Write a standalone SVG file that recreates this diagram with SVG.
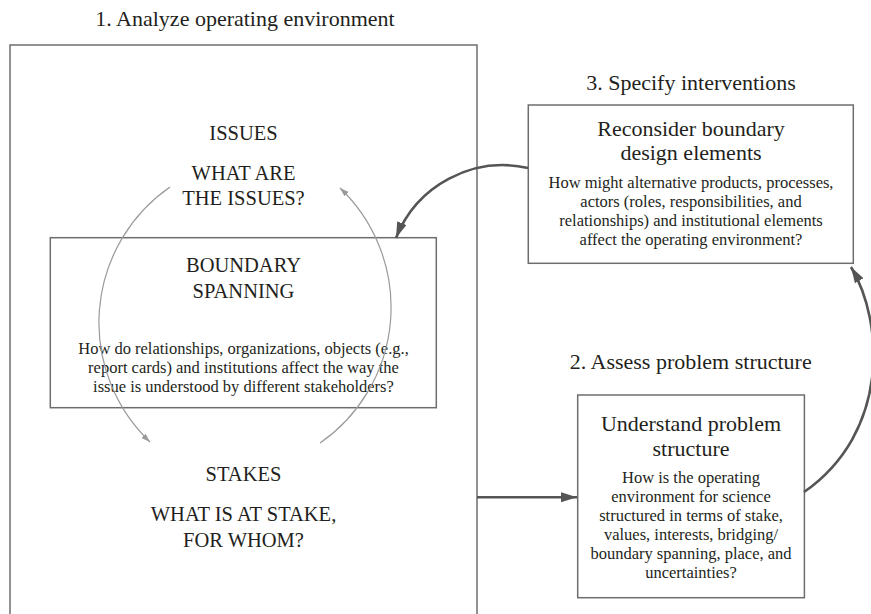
<svg xmlns="http://www.w3.org/2000/svg" width="871" height="614" viewBox="0 0 871 614">
<defs>
<style>
.t{font-family:"Liberation Serif","Times New Roman",serif;fill:#231f20;text-anchor:middle}
.step{font-size:22px}
.head{font-size:22px}
.cap{font-size:20.5px}
.body{font-size:16.5px}
.box{fill:none;stroke:#6d6d6d;stroke-width:1.5}
.thin{fill:none;stroke:#9a9a9a;stroke-width:1.2}
.thick{fill:none;stroke:#555;stroke-width:2.6}
</style>
<marker id="ah" markerUnits="userSpaceOnUse" markerWidth="18" markerHeight="12" refX="16" refY="5" orient="auto">
<path d="M0,0 L16,5 L0,10 z" fill="#555"/>
</marker>
<marker id="as" markerUnits="userSpaceOnUse" markerWidth="12" markerHeight="8" refX="9" refY="3" orient="auto">
<path d="M0,0 L9,3 L0,6 z" fill="#9a9a9a"/>
</marker>
</defs>
<rect width="871" height="614" fill="#fff"/>

<g id="analyze">
<rect class="box" x="10" y="45" width="467" height="580"/>
<text class="t step" x="245" y="26">1. Analyze operating environment</text>
</g>

<g id="issues">
<text class="t cap" x="243.5" y="140">ISSUES</text>
<text class="t cap" x="243.5" y="180">WHAT ARE</text>
<text class="t cap" x="243.5" y="205">THE ISSUES?</text>
</g>

<g id="boundary">
<rect class="box" x="50.3" y="237.7" width="386" height="170"/>
<text class="t cap" x="243.5" y="271.5">BOUNDARY</text>
<text class="t cap" x="243.5" y="298">SPANNING</text>
<text class="t body" x="243.5" y="354">How do relationships, organizations, objects (e.g.,</text>
<text class="t body" x="243.5" y="372.8">report cards) and institutions affect the way the</text>
<text class="t body" x="243.5" y="391.6">issue is understood by different stakeholders?</text>
</g>

<g id="stakes">
<text class="t cap" x="243.5" y="480.7">STAKES</text>
<text class="t cap" x="243.5" y="521">WHAT IS AT STAKE,</text>
<text class="t cap" x="243.5" y="546.7">FOR WHOM?</text>
</g>

<g id="specify">
<text class="t step" x="691" y="90">3. Specify interventions</text>
<rect class="box" x="528.3" y="105" width="325" height="158.3"/>
<text class="t head" x="691" y="136">Reconsider boundary</text>
<text class="t head" x="691" y="160">design elements</text>
<text class="t body" x="691" y="187.7">How might alternative products, processes,</text>
<text class="t body" x="691" y="206.7">actors (roles, responsibilities, and</text>
<text class="t body" x="691" y="225.7">relationships) and institutional elements</text>
<text class="t body" x="691" y="244.5">affect the operating environment?</text>
</g>

<g id="assess">
<text class="t step" x="690.7" y="369.3">2. Assess problem structure</text>
<rect class="box" x="577.7" y="395" width="226.7" height="202.7"/>
<text class="t head" x="691" y="430.7">Understand problem</text>
<text class="t head" x="691" y="456">structure</text>
<text class="t body" x="691" y="482.7">How is the operating</text>
<text class="t body" x="691" y="502">environment for science</text>
<text class="t body" x="691" y="521">structured in terms of stake,</text>
<text class="t body" x="691" y="540">values, interests, bridging/</text>
<text class="t body" x="691" y="559.3">boundary spanning, place, and</text>
<text class="t body" x="691" y="578.3">uncertainties?</text>
</g>

<g id="connectors">
<path class="thin" d="M170,187 A165,165 0 0 0 150,442" marker-end="url(#as)"/>
<path class="thin" d="M320,443 A165,165 0 0 0 340,188" marker-end="url(#as)"/>
<path class="thick" d="M477,497.3 L577,497.3" marker-end="url(#ah)"/>
<path class="thick" d="M804,492 C890,432 884,322 851,267" marker-end="url(#ah)"/>
<path class="thick" d="M528,168 A115,115 0 0 0 396,238" marker-end="url(#ah)"/>
</g>
</svg>
